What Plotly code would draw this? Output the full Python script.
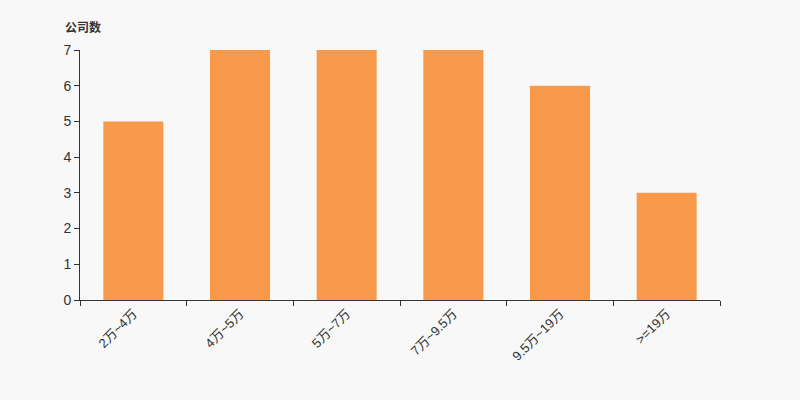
import plotly.graph_objects as go

categories = ["2万~4万", "4万~5万", "5万~7万", "7万~9.5万", "9.5万~19万", ">=19万"]
values = [5, 7, 7, 7, 6, 3]
y_ticks = [0, 1, 2, 3, 4, 5, 6, 7]

fig = go.Figure(go.Bar(x=categories, y=values, marker=dict(color="#f89a4b", line=dict(width=0)), width=0.5625))

font = "Liberation Sans, Noto Sans CJK SC, sans-serif"
fig.update_layout(
    width=800, height=400,
    margin=dict(l=80, r=80, t=50, b=100),
    paper_bgcolor="#f8f8f8", plot_bgcolor="#f8f8f8",
    font=dict(family=font, color="#333", size=12),
    showlegend=False,
    bargap=0.4375,
)
fig.update_xaxes(
    type="category", showline=True, linecolor="#333", linewidth=1,
    ticks="outside", tickson="boundaries", ticklen=5, tickcolor="#333",
    tickangle=-45, showgrid=False, tickfont=dict(size=13, color="#333"),
)
fig.update_yaxes(
    range=[0, 7], tickvals=y_ticks, showline=True, linecolor="#333", linewidth=1,
    ticks="outside", ticklen=5, tickcolor="#333", showgrid=False, zeroline=False,
    tickfont=dict(size=14, color="#333"),
)
fig.add_annotation(text="<b>公司数</b>", xref="paper", yref="paper", x=-0.027, y=1.092,
                   xanchor="left", yanchor="middle", showarrow=False,
                   font=dict(size=12, color="#333", family="Noto Sans CJK SC, sans-serif"))
fig.write_html("out.html", config={"displayModeBar": False},
               post_script="document.body.style.margin='0';document.body.style.background='#f8f8f8';document.body.style.overflow='hidden';")
